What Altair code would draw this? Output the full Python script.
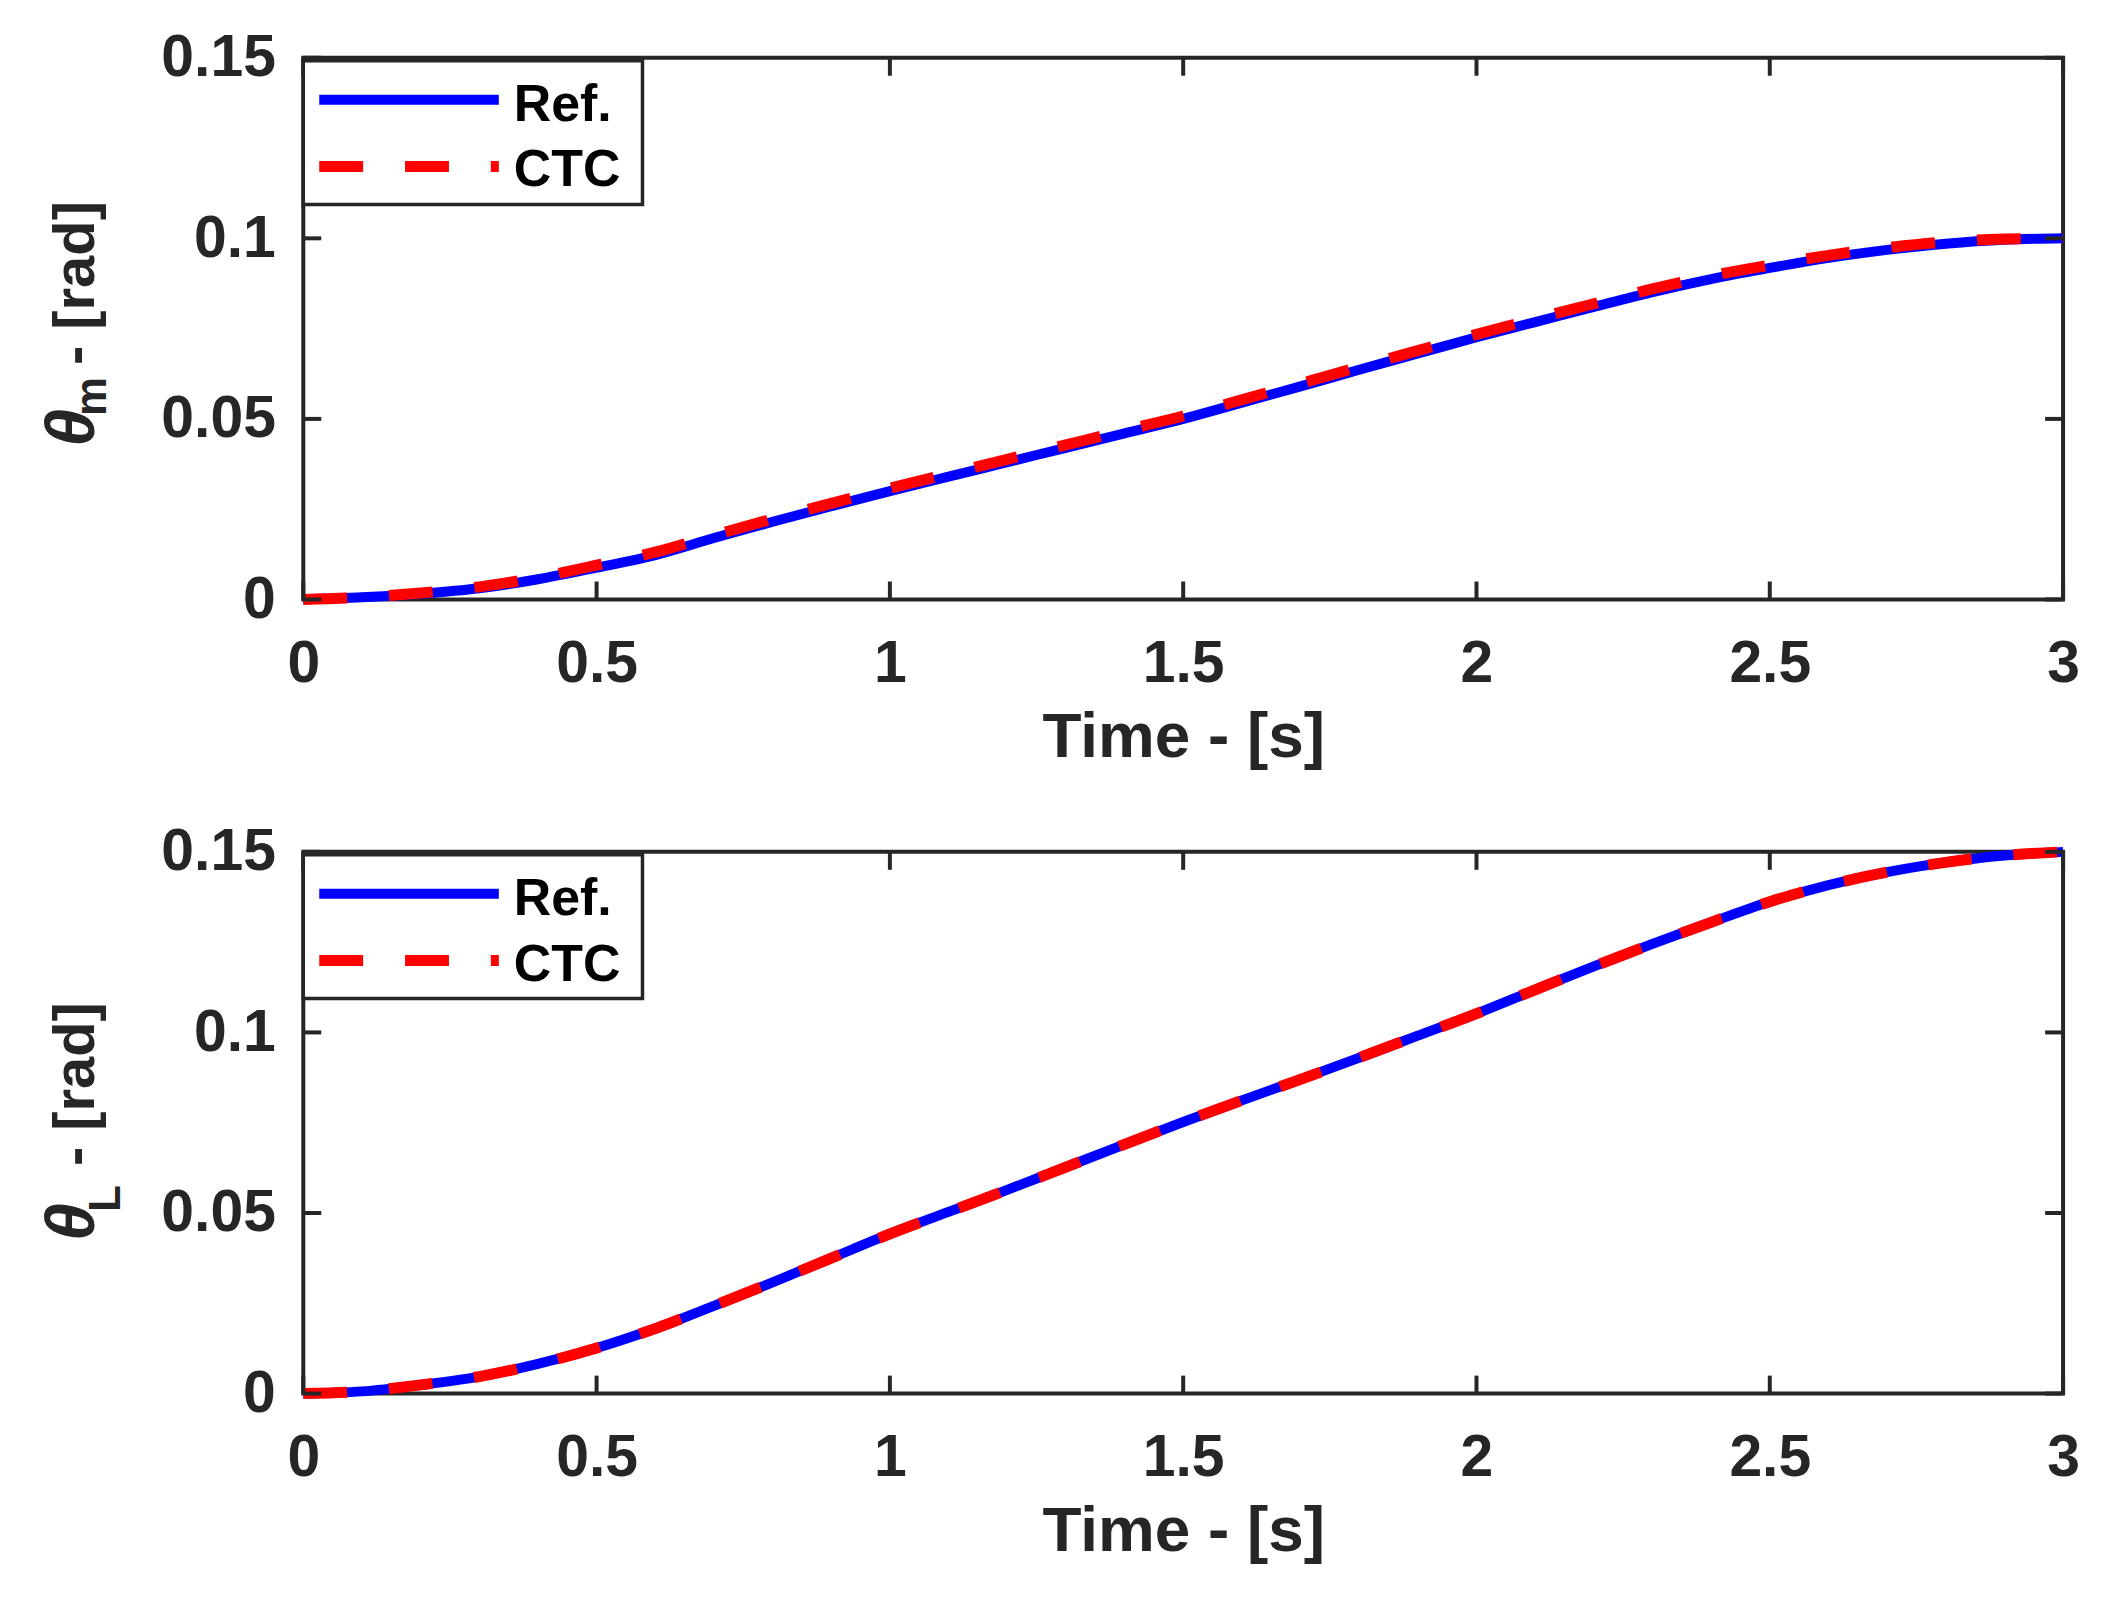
import altair as alt
import pandas as pd

# ---------------- data ----------------
time_s = [0.0, 0.1, 0.2, 0.3, 0.4, 0.5, 0.6, 0.7, 0.8, 0.9, 1.0,
          1.1, 1.2, 1.3, 1.4, 1.5, 1.6, 1.7, 1.8, 1.9, 2.0,
          2.1, 2.2, 2.3, 2.4, 2.5, 2.6, 2.7, 2.8, 2.9, 3.0]

theta_m_ref = [0.0, 0.0006, 0.0016, 0.0031, 0.0056, 0.0088, 0.0123, 0.0170, 0.0215, 0.0258, 0.0300,
               0.0340, 0.0380, 0.0420, 0.0460, 0.0500, 0.0545, 0.0590, 0.0636, 0.0681, 0.0726,
               0.0768, 0.0810, 0.0851, 0.0887, 0.0918, 0.0946, 0.0968, 0.0985, 0.0996, 0.1000]
theta_m_ctc = [0.0, 0.0006, 0.0018, 0.0035, 0.0061, 0.0095, 0.0131, 0.0178, 0.0223, 0.0266, 0.0308,
               0.0348, 0.0388, 0.0428, 0.0468, 0.0508, 0.0553, 0.0598, 0.0644, 0.0689, 0.0734,
               0.0777, 0.0819, 0.0860, 0.0896, 0.0926, 0.0953, 0.0974, 0.0990, 0.0998, 0.1000]

theta_L_ref = [0.0, 0.0006, 0.0024, 0.0047, 0.0082, 0.0126, 0.0180, 0.0243, 0.0308, 0.0375, 0.0442,
               0.0503, 0.0564, 0.0627, 0.0690, 0.0752, 0.0812, 0.0870, 0.0930, 0.0991, 0.1052,
               0.1118, 0.1183, 0.1245, 0.1305, 0.1362, 0.1408, 0.1444, 0.1471, 0.1490, 0.1500]
theta_L_ctc = [0.0, 0.0006, 0.0024, 0.0047, 0.0082, 0.0126, 0.0180, 0.0243, 0.0308, 0.0375, 0.0442,
               0.0503, 0.0564, 0.0627, 0.0690, 0.0752, 0.0812, 0.0870, 0.0930, 0.0991, 0.1052,
               0.1118, 0.1183, 0.1245, 0.1305, 0.1362, 0.1408, 0.1444, 0.1471, 0.1490, 0.1500]

x_ticks = [0, 0.5, 1, 1.5, 2, 2.5, 3]
y_ticks = [0, 0.05, 0.1, 0.15]
legend_names = ["Ref.", "CTC"]
x_title = "Time - [s]"
y_title_rest = "- [rad]"

# ---------------- style ----------------
W = 1764
H = 543
TICK = 18
FONT = "Liberation Sans"
AX = "#262626"
BLUE = "#0000FF"
RED = "#FF0000"


def panel(ref, ctc, sub, sub_base_x, sub_y, rest_y):
    df = pd.DataFrame({"t": time_s, "ref": ref, "ctc": ctc})
    xs = alt.Scale(domain=[0, 3], nice=False, zero=False)
    ys = alt.Scale(domain=[0, 0.15], nice=False, zero=False)
    xax = alt.Axis(values=x_ticks, format=".1~f", title=x_title, titleY=157,
                   titleBaseline="alphabetic", labelPadding=35)
    yax = alt.Axis(values=y_ticks, format=".2~f", title=None, labelPadding=28)

    base = alt.Chart(df)
    ref_line = base.mark_line(color=BLUE, strokeWidth=10, interpolate="monotone").encode(
        x=alt.X("t:Q", scale=xs, axis=xax),
        y=alt.Y("ref:Q", scale=ys, axis=yax),
    )
    ctc_line = base.mark_line(color=RED, strokeWidth=11, strokeDash=[44, 42],
                              strokeCap="butt", interpolate="monotone").encode(
        x=alt.X("t:Q", scale=xs, axis=xax),
        y=alt.Y("ctc:Q", scale=ys, axis=yax),
    )

    xt = alt.Chart(pd.DataFrame({"t": x_ticks}))
    yt = alt.Chart(pd.DataFrame({"v": y_ticks}))
    tick_b = xt.mark_rule(color=AX, strokeWidth=4).encode(
        x=alt.X("t:Q", scale=xs, axis=xax), y=alt.value(H), y2=alt.value(H - TICK))
    tick_t = xt.mark_rule(color=AX, strokeWidth=4).encode(
        x=alt.X("t:Q", scale=xs, axis=xax), y=alt.value(0), y2=alt.value(TICK))
    tick_l = yt.mark_rule(color=AX, strokeWidth=4).encode(
        y=alt.Y("v:Q", scale=ys, axis=yax), x=alt.value(0), x2=alt.value(TICK))
    tick_r = yt.mark_rule(color=AX, strokeWidth=4).encode(
        y=alt.Y("v:Q", scale=ys, axis=yax), x=alt.value(W), x2=alt.value(W - TICK))

    one = alt.Chart(pd.DataFrame({"k": [0]}))
    leg_box = one.mark_rect(fill="white", stroke=AX, strokeWidth=3.5).encode(
        x=alt.value(0), x2=alt.value(340), y=alt.value(3), y2=alt.value(147))
    leg_ref = one.mark_rule(color=BLUE, strokeWidth=10).encode(
        x=alt.value(16), x2=alt.value(196), y=alt.value(42))
    leg_ctc = one.mark_rule(color=RED, strokeWidth=11, strokeDash=[44, 42], strokeCap="butt").encode(
        x=alt.value(16), x2=alt.value(196), y=alt.value(109))
    leg_t1 = alt.Chart(pd.DataFrame({"s": [legend_names[0]]})).mark_text(
        align="left", baseline="alphabetic", font=FONT, fontSize=52, fontWeight="bold",
        color="black").encode(x=alt.value(211), y=alt.value(63), text="s:N")
    leg_t2 = alt.Chart(pd.DataFrame({"s": [legend_names[1]]})).mark_text(
        align="left", baseline="alphabetic", font=FONT, fontSize=52, fontWeight="bold",
        color="black").encode(x=alt.value(211), y=alt.value(129), text="s:N")

    # y-axis title: theta, subscript, " - [rad]"
    th = alt.Chart(pd.DataFrame({"s": ["θ"]})).mark_text(
        angle=270, align="left", baseline="alphabetic", font=FONT, fontSize=68,
        fontStyle="italic", fontWeight="bold", color=AX).encode(
        x=alt.value(-210), y=alt.value(390), text="s:N")
    sb = alt.Chart(pd.DataFrame({"s": [sub]})).mark_text(
        angle=270, align="left", baseline="alphabetic", font=FONT, fontSize=44,
        fontWeight="bold", color=AX).encode(
        x=alt.value(sub_base_x), y=alt.value(sub_y), text="s:N")
    rest = alt.Chart(pd.DataFrame({"s": [y_title_rest]})).mark_text(
        angle=270, align="left", baseline="alphabetic", font=FONT, fontSize=58,
        fontWeight="bold", color=AX).encode(
        x=alt.value(-210), y=alt.value(rest_y), text="s:N")

    return alt.layer(ref_line, ctc_line, tick_b, tick_t, tick_l, tick_r,
                     leg_box, leg_ref, leg_ctc, leg_t1, leg_t2, th, sb, rest).properties(
        width=W, height=H)


top = panel(theta_m_ref, theta_m_ctc, "m", -198, 359, 308)
bottom = panel(theta_L_ref, theta_L_ctc, "L", -184, 361, 315)

chart = alt.vconcat(top, bottom, spacing=253, bounds="flush").properties(
    padding={"left": 30, "top": 17, "right": 10, "bottom": 10},
    background="white",
).configure_view(
    stroke=AX, strokeWidth=4
).configure_axis(
    labelFont=FONT, labelFontSize=59, labelFontWeight="bold", labelColor=AX,
    titleFont=FONT, titleFontSize=64, titleFontWeight="bold", titleColor=AX,
    ticks=False, tickSize=0, domain=False, grid=False, labelFlush=False,
    labelOverlap=False,
)

chart.save("out.html", embed_options={"renderer": "svg", "actions": False})
